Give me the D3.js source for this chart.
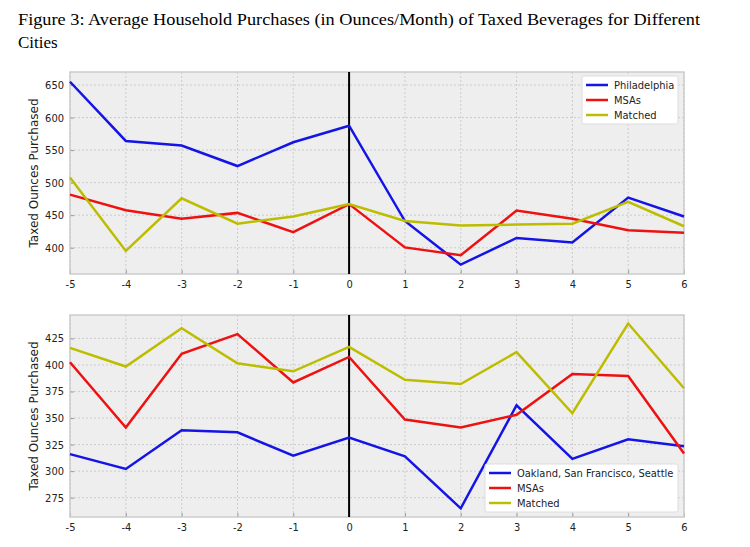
<!DOCTYPE html>
<html>
<head>
<meta charset="utf-8">
<script src="https://cdn.jsdelivr.net/npm/d3@7"></script>
<style>
  body { margin: 0; background: #fff; }
  svg text { font-family: "DejaVu Sans Condensed", "DejaVu Sans", sans-serif; }
</style>
</head>
<body>
<svg id="chart" width="750" height="547"></svg>
<script>
// months relative to tax
const months = [-5, -4, -3, -2, -1, 0, 1, 2, 3, 4, 5, 6];

// top panel: Philadelphia
const phila = [655, 564, 557, 525.5, 562, 587.5, 441, 374, 415, 408, 477, 448];
const phMsas = [481.5, 457.5, 444.5, 453.5, 424, 467, 400.5, 388.5, 457, 444.5, 427, 423];
const phMatched = [508, 395, 476, 437, 448, 467, 441, 434, 435.5, 437, 470.5, 433];
const topTicks = [400, 450, 500, 550, 600, 650];

// bottom panel: Oakland, San Francisco, Seattle
const west = [316, 302, 338.5, 336.5, 314.5, 331.5, 314, 265, 362, 311.5, 330, 323.5];
const westMsas = [402.5, 341, 410.5, 429, 383.5, 407.5, 348.5, 341, 353, 391.5, 389.5, 316.5];
const westMatched = [416, 398.5, 434.5, 401.5, 394, 417, 386, 382, 412, 354.5, 439, 378];
const bottomTicks = [275, 300, 325, 350, 375, 400, 425];

const colors = ["#1414e6", "#ee1111", "#bdbd00"];

const svg = d3.select("#chart");

svg.append("text")
    .attr("x", 18).attr("y", 25)
    .attr("textLength", 682).attr("lengthAdjust", "spacingAndGlyphs")
    .style("font-family", "'Liberation Serif', serif")
    .style("font-size", "17px")
    .text("Figure 3: Average Household Purchases (in Ounces/Month) of Taxed Beverages for Different");
svg.append("text")
    .attr("x", 18).attr("y", 48)
    .style("font-family", "'Liberation Serif', serif")
    .style("font-size", "17px")
    .text("Cities");

function panel(top, bottom, domain, ticks, series, names, legendPos) {
    const x = d3.scaleLinear().domain([-5, 6]).range([70, 684]);
    const y = d3.scaleLinear().domain(domain).range([bottom, top]);
    const g = svg.append("g");

    g.append("rect")
        .attr("x", 70).attr("y", top)
        .attr("width", 614).attr("height", bottom - top)
        .attr("fill", "#eeeeee");

    // grid
    g.selectAll(".vg").data(months).enter().append("line")
        .attr("x1", d => x(d)).attr("x2", d => x(d))
        .attr("y1", top).attr("y2", bottom)
        .attr("stroke", "#c4c4c4").attr("stroke-dasharray", "2,2").attr("stroke-width", 0.8);
    g.selectAll(".hg").data(ticks).enter().append("line")
        .attr("x1", 70).attr("x2", 684)
        .attr("y1", d => y(d)).attr("y2", d => y(d))
        .attr("stroke", "#c4c4c4").attr("stroke-dasharray", "2,2").attr("stroke-width", 0.8);

    const xAxis = g.append("g").attr("transform", `translate(0,${bottom})`)
        .call(d3.axisBottom(x).tickValues(months).tickFormat(d => String(d)).tickSize(-4).tickPadding(6));
    const yAxis = g.append("g").attr("transform", "translate(70,0)")
        .call(d3.axisLeft(y).tickValues(ticks).tickSize(-4).tickPadding(6));
    [xAxis, yAxis].forEach(a => {
        a.select(".domain").remove();
        a.selectAll("line").attr("stroke", "#999");
        a.selectAll("text").style("font-size", "11px").attr("fill", "#222");
    });

    g.append("rect")
        .attr("x", 70).attr("y", top)
        .attr("width", 614).attr("height", bottom - top)
        .attr("fill", "none").attr("stroke", "#cccccc").attr("stroke-width", 1.5);

    // event line at month 0
    g.append("line")
        .attr("x1", x(0)).attr("x2", x(0)).attr("y1", top).attr("y2", bottom)
        .attr("stroke", "#000").attr("stroke-width", 2);

    const line = d3.line().x((d, i) => x(months[i])).y(d => y(d));
    series.forEach((s, i) => {
        g.append("path").datum(s)
            .attr("d", line)
            .attr("fill", "none")
            .attr("stroke", colors[i])
            .attr("stroke-width", 2.5);
    });

    g.append("text")
        .attr("transform", `translate(38,${(top + bottom) / 2}) rotate(-90)`)
        .attr("text-anchor", "middle")
        .style("font-family", "'DejaVu Sans', sans-serif")
        .style("font-size", "12px")
        .attr("fill", "#222")
        .text("Taxed Ounces Purchased");

    const lg = g.append("g").attr("transform", `translate(${legendPos[0]},${legendPos[1]})`);
    lg.append("rect")
        .attr("width", legendPos[2]).attr("height", 48)
        .attr("fill", "#fff").attr("stroke", "#dddddd").attr("rx", 2);
    names.forEach((n, i) => {
        lg.append("line")
            .attr("x1", 4).attr("x2", 26).attr("y1", 9 + i * 15).attr("y2", 9 + i * 15)
            .attr("stroke", colors[i]).attr("stroke-width", 2.5);
        lg.append("text")
            .attr("x", 32).attr("y", 13 + i * 15)
            .style("font-size", "11px").attr("fill", "#222")
            .text(n);
    });
}

panel(72, 274, [359.6, 670], topTicks, [phila, phMsas, phMatched],
    ["Philadelphia", "MSAs", "Matched"], [582, 76, 96]);
panel(315, 517, [256.8, 447], bottomTicks, [west, westMsas, westMatched],
    ["Oakland, San Francisco, Seattle", "MSAs", "Matched"], [485, 464, 193]);
</script>
</body>
</html>
